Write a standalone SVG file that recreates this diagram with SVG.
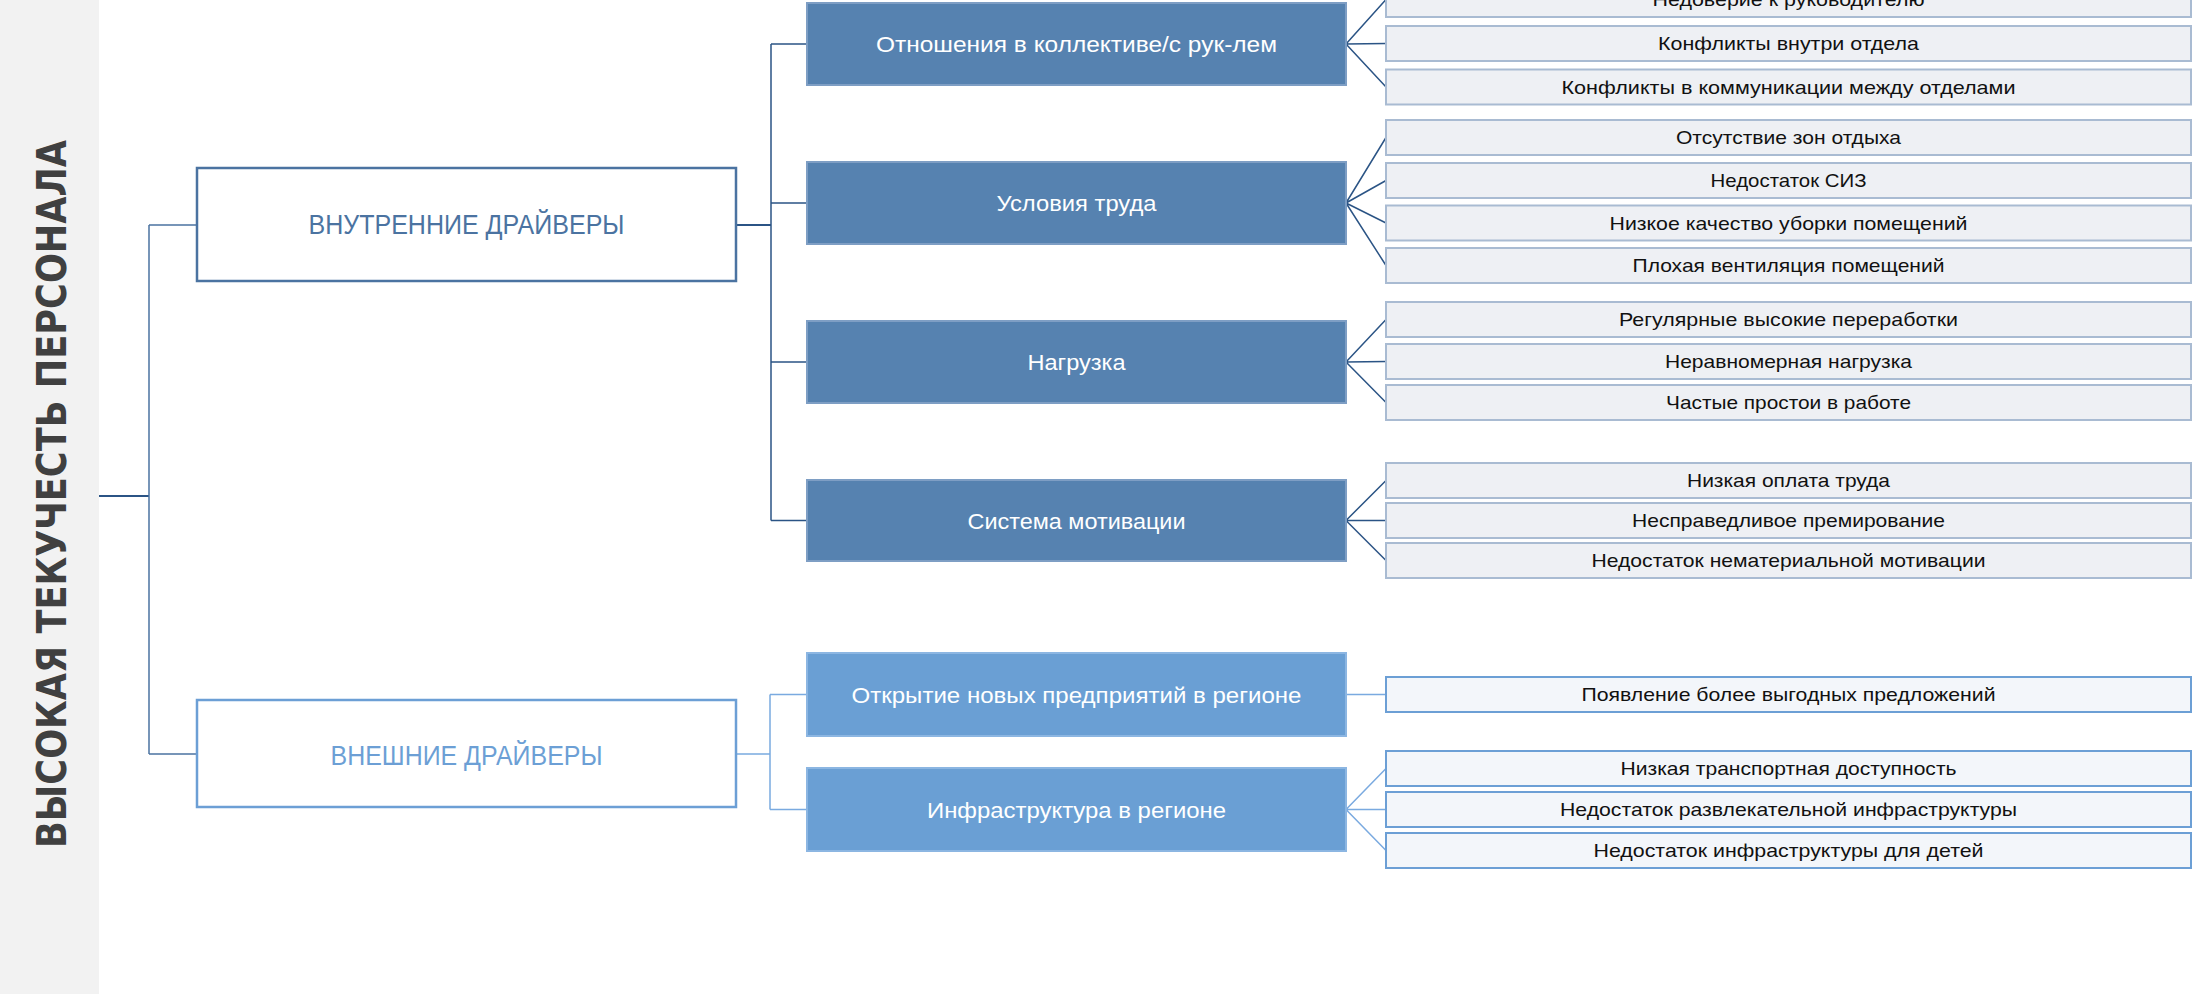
<svg xmlns="http://www.w3.org/2000/svg" width="2194" height="994" viewBox="0 0 2194 994">
<style>
.bg{fill:#ffffff}
.band{fill:#f2f2f2}
.title{font-family:"DejaVu Sans","Liberation Sans",sans-serif;font-weight:bold;font-size:40px;fill:#404040}
.l1{fill:#ffffff;stroke-width:2.5}
.l1i{stroke:#4b73a1}
.l1e{stroke:#6c9fd5}
.l1t{font-family:"Liberation Sans",Arial,sans-serif;font-size:27px;text-anchor:middle}
.l2i{fill:#5682b0;stroke:#7e9ec4;stroke-width:2}
.l2e{fill:#6a9fd4;stroke:#8cb6e2;stroke-width:2}
.l2t{font-family:"Liberation Sans",Arial,sans-serif;font-size:22px;fill:#ffffff;text-anchor:middle}
.l3i{fill:#eef0f4;stroke:#a9bbd2;stroke-width:2}
.l3e{fill:#f3f6fa;stroke:#6c9fd5;stroke-width:2}
.l3t{font-family:"Liberation Sans",Arial,sans-serif;font-size:19px;fill:#111111;text-anchor:middle}
.cd{fill:none;stroke:#2b5485;stroke-width:1.5}
.cm{fill:none;stroke:#4b73a1;stroke-width:1.5}
.ce{fill:none;stroke:#7aaae0;stroke-width:1.5}
</style>
<rect class="bg" x="0" y="0" width="2194" height="994"/>
<g id="title">
<rect class="band" x="0" y="0" width="99" height="994"/>
<text class="title" transform="translate(66,848) rotate(-90)" textLength="708" lengthAdjust="spacingAndGlyphs">ВЫСОКАЯ ТЕКУЧЕСТЬ ПЕРСОНАЛА</text>
</g>
<g id="connectors">
<path class="cd" d="M99 496H149" style="stroke-width:2"/>
<path class="cm" d="M149 225V754M149 225H197M149 754H197"/>
<path class="cd" d="M736 225H771" style="stroke-width:2.2"/>
<path class="cd" d="M771 44V520.5M771 44H807M771 203H807M771 362H807M771 520.5H807"/>
<path class="ce" d="M736 754H770M770 694.5V809.5M770 694.5H807M770 809.5H807"/>
<path class="cd" d="M1346 44L1386 -0.5M1346 44L1386 43.5M1346 44L1386 87"/>
<path class="cd" d="M1346 203L1386 137.5M1346 203L1386 180.5M1346 203L1386 223M1346 203L1386 265.5"/>
<path class="cd" d="M1346 362L1386 319.5M1346 362L1386 361.5M1346 362L1386 402.5"/>
<path class="cd" d="M1346 520.5L1386 480.5M1346 520.5L1386 520.5M1346 520.5L1386 560.5"/>
<path class="ce" d="M1346 694.5L1386 694.5"/>
<path class="ce" d="M1346 809.5L1386 768.5M1346 809.5L1386 809.5M1346 809.5L1386 850.5"/>
</g>
<g id="internal">
<rect class="l1 l1i" x="197" y="168" width="539" height="113"/>
<text class="l1t" x="466.5" y="234" fill="#4b73a1" textLength="316" lengthAdjust="spacingAndGlyphs">ВНУТРЕННИЕ ДРАЙВЕРЫ</text>
</g>
<g id="external">
<rect class="l1 l1e" x="197" y="700" width="539" height="107"/>
<text class="l1t" x="466.5" y="765" fill="#6c9fd5" textLength="272" lengthAdjust="spacingAndGlyphs">ВНЕШНИЕ ДРАЙВЕРЫ</text>
</g>
<g id="relations">
<rect class="l2i" x="807" y="3" width="539" height="82"/>
<text class="l2t" x="1076.5" y="52" textLength="401" lengthAdjust="spacingAndGlyphs">Отношения в коллективе/с рук-лем</text>
</g>
<g id="conditions">
<rect class="l2i" x="807" y="162" width="539" height="82"/>
<text class="l2t" x="1076.5" y="211" textLength="160" lengthAdjust="spacingAndGlyphs">Условия труда</text>
</g>
<g id="load">
<rect class="l2i" x="807" y="321" width="539" height="82"/>
<text class="l2t" x="1076.5" y="370" textLength="98" lengthAdjust="spacingAndGlyphs">Нагрузка</text>
</g>
<g id="motivation">
<rect class="l2i" x="807" y="480" width="539" height="81"/>
<text class="l2t" x="1076.5" y="528.5" textLength="218" lengthAdjust="spacingAndGlyphs">Система мотивации</text>
</g>
<g id="newenterprises">
<rect class="l2e" x="807" y="653" width="539" height="83"/>
<text class="l2t" x="1076.5" y="702.5" textLength="450" lengthAdjust="spacingAndGlyphs">Открытие новых предприятий в регионе</text>
</g>
<g id="infrastructure">
<rect class="l2e" x="807" y="768" width="539" height="83"/>
<text class="l2t" x="1076.5" y="817.5" textLength="299" lengthAdjust="spacingAndGlyphs">Инфраструктура в регионе</text>
</g>
<g id="r1"><rect class="l3i" x="1386" y="-18" width="805" height="35"/><text class="l3t" x="1788.5" y="6" textLength="272" lengthAdjust="spacingAndGlyphs">Недоверие к руководителю</text></g>
<g id="r2"><rect class="l3i" x="1386" y="26" width="805" height="35"/><text class="l3t" x="1788.5" y="50" textLength="261" lengthAdjust="spacingAndGlyphs">Конфликты внутри отдела</text></g>
<g id="r3"><rect class="l3i" x="1386" y="69.5" width="805" height="35"/><text class="l3t" x="1788.5" y="93.5" textLength="454" lengthAdjust="spacingAndGlyphs">Конфликты в коммуникации между отделами</text></g>
<g id="r4"><rect class="l3i" x="1386" y="120" width="805" height="35"/><text class="l3t" x="1788.5" y="144" textLength="225" lengthAdjust="spacingAndGlyphs">Отсутствие зон отдыха</text></g>
<g id="r5"><rect class="l3i" x="1386" y="163" width="805" height="35"/><text class="l3t" x="1788.5" y="187" textLength="156" lengthAdjust="spacingAndGlyphs">Недостаток СИЗ</text></g>
<g id="r6"><rect class="l3i" x="1386" y="205.5" width="805" height="35"/><text class="l3t" x="1788.5" y="229.5" textLength="358" lengthAdjust="spacingAndGlyphs">Низкое качество уборки помещений</text></g>
<g id="r7"><rect class="l3i" x="1386" y="248" width="805" height="35"/><text class="l3t" x="1788.5" y="272" textLength="312" lengthAdjust="spacingAndGlyphs">Плохая вентиляция помещений</text></g>
<g id="r8"><rect class="l3i" x="1386" y="302" width="805" height="35"/><text class="l3t" x="1788.5" y="326" textLength="339" lengthAdjust="spacingAndGlyphs">Регулярные высокие переработки</text></g>
<g id="r9"><rect class="l3i" x="1386" y="344" width="805" height="35"/><text class="l3t" x="1788.5" y="368" textLength="247" lengthAdjust="spacingAndGlyphs">Неравномерная нагрузка</text></g>
<g id="r10"><rect class="l3i" x="1386" y="385" width="805" height="35"/><text class="l3t" x="1788.5" y="409" textLength="245" lengthAdjust="spacingAndGlyphs">Частые простои в работе</text></g>
<g id="r11"><rect class="l3i" x="1386" y="463" width="805" height="35"/><text class="l3t" x="1788.5" y="487" textLength="203" lengthAdjust="spacingAndGlyphs">Низкая оплата труда</text></g>
<g id="r12"><rect class="l3i" x="1386" y="503" width="805" height="35"/><text class="l3t" x="1788.5" y="527" textLength="313" lengthAdjust="spacingAndGlyphs">Несправедливое премирование</text></g>
<g id="r13"><rect class="l3i" x="1386" y="543" width="805" height="35"/><text class="l3t" x="1788.5" y="567" textLength="394" lengthAdjust="spacingAndGlyphs">Недостаток нематериальной мотивации</text></g>
<g id="r14"><rect class="l3e" x="1386" y="677" width="805" height="35"/><text class="l3t" x="1788.5" y="701" textLength="414" lengthAdjust="spacingAndGlyphs">Появление более выгодных предложений</text></g>
<g id="r15"><rect class="l3e" x="1386" y="751" width="805" height="35"/><text class="l3t" x="1788.5" y="775" textLength="336" lengthAdjust="spacingAndGlyphs">Низкая транспортная доступность</text></g>
<g id="r16"><rect class="l3e" x="1386" y="792" width="805" height="35"/><text class="l3t" x="1788.5" y="816" textLength="457" lengthAdjust="spacingAndGlyphs">Недостаток развлекательной инфраструктуры</text></g>
<g id="r17"><rect class="l3e" x="1386" y="833" width="805" height="35"/><text class="l3t" x="1788.5" y="857" textLength="390" lengthAdjust="spacingAndGlyphs">Недостаток инфраструктуры для детей</text></g>
</svg>
